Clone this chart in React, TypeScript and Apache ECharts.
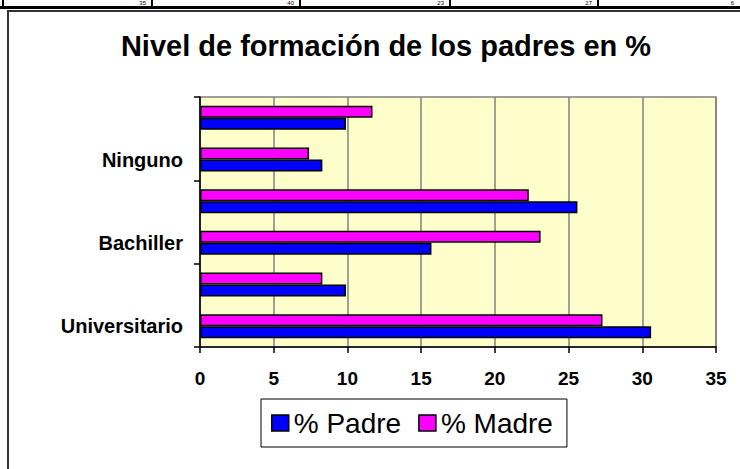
import React, { useEffect, useRef } from "react";
import * as echarts from "echarts";

// Categories from bottom to top (only every other label is shown in the reference)
const categories = ["Universitario", "Técnico", "Bachiller", "Primaria", "Ninguno", "No responde"];
const padreValues = [30.6, 9.9, 15.7, 25.6, 8.3, 9.9];
const madreValues = [27.3, 8.3, 23.1, 22.3, 7.4, 11.7];
const seriesNames = ["% Padre", "% Madre"];
const titleText = "Nivel de formación de los padres en %";
// partly visible row of a table above the chart
const tableValues = ["35", "40", "23", "27", "6"];

const FONT = "'Liberation Sans', Arial, sans-serif";

export default function App() {
  const ref = useRef<HTMLDivElement>(null);
  useEffect(() => {
    if (!ref.current) return;
    const chart = echarts.init(ref.current, undefined, { renderer: "svg" });
    const cellRights = [152, 300, 450, 598, 740];
    const graphics: any[] = [
      // table row remnants
      { type: "rect", shape: { x: 0, y: 6, width: 740, height: 3 }, style: { fill: "#000" }, z: 10 },
      ...[3, 152, 300, 450, 598].map((x) => ({
        type: "rect",
        shape: { x: x - 1, y: 0, width: 2, height: 7 },
        style: { fill: "#000" },
        z: 10,
      })),
      ...tableValues.map((v, i) => ({
        type: "text",
        x: cellRights[i] - 6,
        y: 6,
        style: {
          text: v,
          fill: "#000",
          font: `6px ${FONT}`,
          textAlign: "right",
          textVerticalAlign: "bottom",
        },
        z: 10,
      })),
      // chart area border (extends beyond the page)
      {
        type: "rect",
        shape: { x: 8, y: 11, width: 760, height: 480 },
        style: { fill: "#fff", stroke: "#333", lineWidth: 2 },
        z: -10,
      },
    ];
    chart.setOption({
      animation: false,
      backgroundColor: "#fff",
      title: {
        text: titleText,
        left: 386,
        top: 31,
        padding: 0,
        textAlign: "center",
        textStyle: { fontFamily: FONT, fontSize: 29, fontWeight: "bold", color: "#000" },
      },
      graphic: graphics,
      legend: {
        data: seriesNames,
        left: 261,
        top: 399,
        padding: [10, 14, 10, 10],
        itemGap: 17,
        itemWidth: 17,
        itemHeight: 16,
        icon: "rect",
        borderColor: "#000",
        borderWidth: 1,
        backgroundColor: "#fff",
        textStyle: { fontFamily: FONT, fontSize: 28, color: "#000", lineHeight: 28 },
        itemStyle: { borderColor: "#000", borderWidth: 1.5 },
      },
      grid: {
        left: 200,
        right: 24,
        top: 97,
        height: 250,
        show: true,
        backgroundColor: "#FFFFCC",
        borderColor: "#808080",
        borderWidth: 1.5,
        containLabel: false,
      },
      xAxis: {
        type: "value",
        min: 0,
        max: 35,
        interval: 5,
        axisLine: { show: true, lineStyle: { color: "#000", width: 1.5 } },
        axisTick: { show: true, length: 6, lineStyle: { color: "#000", width: 1.5 } },
        splitLine: { show: true, lineStyle: { color: "#808080", width: 1.5 } },
        axisLabel: {
          fontFamily: FONT,
          fontSize: 19,
          fontWeight: "bold",
          color: "#000",
          margin: 22,
        },
      },
      yAxis: {
        type: "category",
        data: categories,
        axisLine: { show: true, lineStyle: { color: "#000", width: 1.5 } },
        axisTick: { show: true, length: 6, lineStyle: { color: "#000", width: 1.5 } },
        axisLabel: {
          interval: 1,
          fontFamily: FONT,
          fontSize: 20,
          fontWeight: "bold",
          color: "#000",
          margin: 17,
        },
      },
      series: [
        {
          name: seriesNames[1],
          type: "bar",
          data: madreValues,
          barWidth: 12,
          barGap: "0%",
          itemStyle: { color: "#FF00FF", borderColor: "#000", borderWidth: 1.5 },
        },
        {
          name: seriesNames[0],
          type: "bar",
          data: padreValues,
          barWidth: 12,
          barGap: "0%",
          itemStyle: { color: "#0000FF", borderColor: "#000", borderWidth: 1.5 },
        },
      ],
    });
    return () => chart.dispose();
  }, []);
  return (
    <div
      ref={ref}
      style={{ position: "fixed", left: 0, top: 0, width: 740, height: 469 }}
    />
  );
}
